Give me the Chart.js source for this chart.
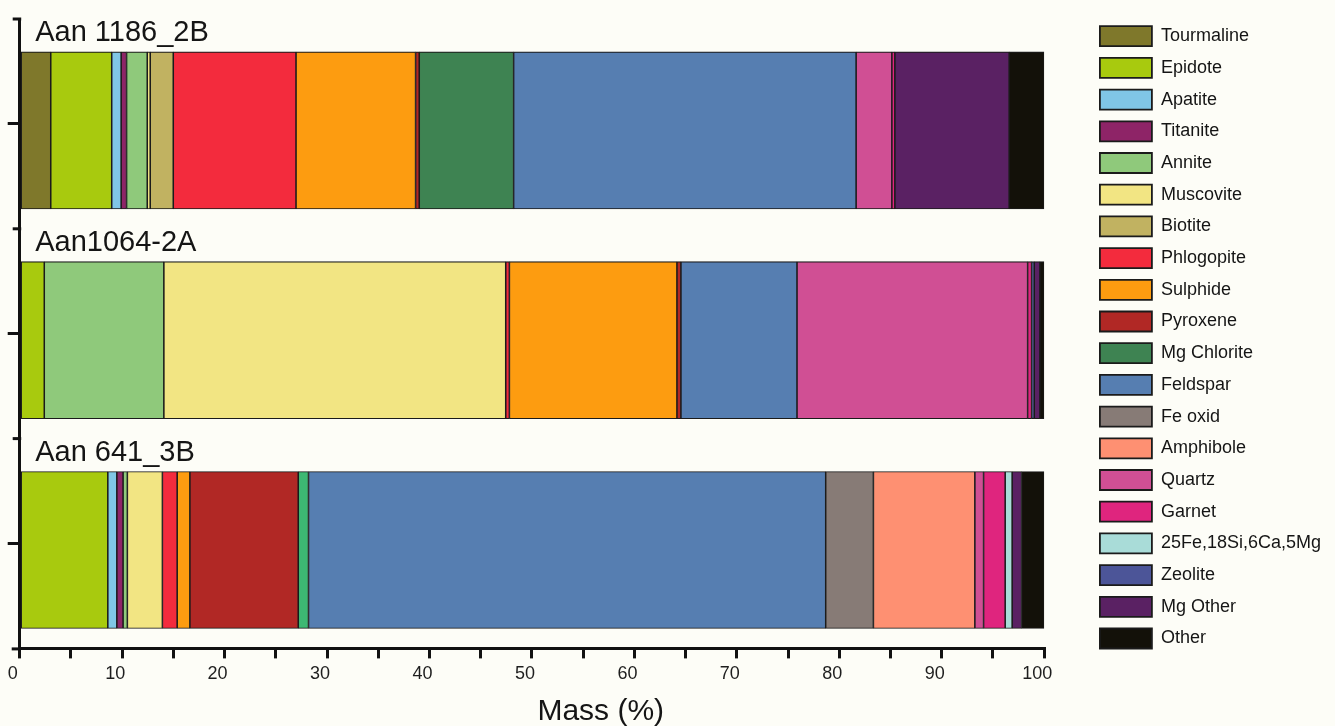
<!DOCTYPE html>
<html>
<head>
<meta charset="utf-8">
<title>Mass (%) per sample</title>
<script src="https://cdn.jsdelivr.net/npm/chart.js@4.4.1/dist/chart.umd.min.js"></script>
<style>
  html, body { margin: 0; padding: 0; background: #fdfdf7; }
  #wrap { width: 1335px; height: 726px; position: relative; }
</style>
</head>
<body>
<div id="wrap"><canvas id="massChart"></canvas></div>
<script>
// samples, top to bottom
const samples = ['Aan 1186_2B', 'Aan1064-2A', 'Aan 641_3B'];

// minerals in stack / legend order
const minerals = [
    'Tourmaline', 'Epidote', 'Apatite', 'Titanite', 'Annite', 'Muscovite', 'Biotite',
    'Phlogopite', 'Sulphide', 'Pyroxene', 'Mg Chlorite', 'Feldspar', 'Fe oxid',
    'Amphibole', 'Quartz', 'Garnet', '25Fe,18Si,6Ca,5Mg', 'Zeolite', 'Mg Other', 'Other'
];

const colours = [
    '#7f782b', '#a8ca0e', '#80c6e6', '#8e2467', '#8fc97b', '#f2e583', '#c1b261',
    '#f32b3d', '#fd9c10', '#b12825', '#3e8352', '#567eb1', '#877b76',
    '#fe9072', '#d04f94', '#df257e', '#a9dcd8', '#4c5598', '#5a2163', '#131109'
];

// mass % of each mineral, one value per sample
const tourmaline = [3.03, 0, 0];
const epidote    = [5.95, 2.40, 8.60];
const apatite    = [0.92, 0, 0.88];
const titanite   = [0.53, 0, 0.61];
const annite     = [2.02, 11.67, 0.42];
const muscovite  = [0.29, 33.37, 3.42];
const biotite    = [2.25, 0, 0];
const phlogopite = [11.98, 0.36, 1.44];
const sulphide   = [11.67, 16.35, 1.24];
const pyroxene   = [0.36, 0.39, 10.58];
const mgChlorite = [9.21, 0, 1.00];
const feldspar   = [33.43, 11.33, 50.48];
const feOxid     = [0, 0, 4.66];
const amphibole  = [0, 0, 9.90];
const quartz     = [3.49, 22.51, 0.85];
const garnet     = [0.29, 0.39, 2.11];
const fe25       = [0, 0, 0.68];
const zeolite    = [0, 0.26, 0];
const mgOther    = [11.16, 0.55, 0.92];
const other      = [3.42, 0.42, 2.21];

const massTicks = [0, 10, 20, 30, 40, 50, 60, 70, 80, 90, 100];

const seriesValues = [
    tourmaline, epidote, apatite, titanite, annite, muscovite, biotite,
    phlogopite, sulphide, pyroxene, mgChlorite, feldspar, feOxid,
    amphibole, quartz, garnet, fe25, zeolite, mgOther, other
];

// the chlorite in the last sample is printed in a lighter green
const chloriteLight = '#3db873';

const FONT = "'Liberation Sans', Arial, Helvetica, sans-serif";
const INK = '#151515';
const LEGEND_GAP = 48;     // room between plot and legend
const LEGEND_SHIFT = 44;
const LEGEND_RAISE = 4.5;
const BAR_DROP = 0.031;    // bars sit a little low inside each axis segment

Chart.defaults.font.family = FONT;
Chart.defaults.color = INK;

const datasets = minerals.map((name, i) => ({
    label: name,
    data: seriesValues[i],
    backgroundColor: name === 'Mg Chlorite'
        ? c => (c.type === 'data' && c.dataIndex === 2 ? chloriteLight : colours[i])
        : colours[i],
    borderColor: '#1b1b1b',
    borderWidth: 1.1,
    borderSkipped: false,
    barThickness: 157,
    yAxisID: 'yBars',
    xAxisID: 'x'
}));

// moves the legend right, leaving the gap on the plot side
const legendPlacement = {
    id: 'legendPlacement',
    afterInit(chart) {
        const legend = chart.legend;
        const fit = legend.fit;
        legend.fit = function () {
            fit.call(this);
            this.width += LEGEND_GAP;
        };
    },
    afterLayout(chart) {
        chart.legend.left += LEGEND_SHIFT;
        chart.legend.top -= LEGEND_RAISE;
    }
};

// sample names above bars, axis segment marks and x title
const decorations = {
    id: 'decorations',
    afterDraw(chart) {
        const ctx = chart.ctx;
        const area = chart.chartArea;
        const yScale = chart.scales.y;
        const meta = chart.getDatasetMeta(0);
        ctx.save();

        ctx.strokeStyle = '#111';
        ctx.lineWidth = 3;
        samples.forEach((s, i) => {
            const y = yScale.getPixelForValue(i - 0.5);
            ctx.beginPath();
            ctx.moveTo(area.left - 7, y);
            ctx.lineTo(area.left + 1.5, y);
            ctx.stroke();
        });
        // x axis line runs a little past the y axis
        ctx.beginPath();
        ctx.moveTo(area.left - 8, area.bottom + 0.5);
        ctx.lineTo(area.left, area.bottom + 0.5);
        ctx.stroke();

        ctx.fillStyle = INK;
        ctx.textAlign = 'left';
        ctx.textBaseline = 'alphabetic';
        ctx.font = '29px ' + FONT;
        samples.forEach((s, i) => {
            const bar = meta.data[i];
            const top = bar.y - bar.height / 2;
            ctx.fillText(s, area.left + 15.5, top - 11);
        });

        ctx.textAlign = 'center';
        ctx.font = '30px ' + FONT;
        ctx.fillText('Mass (%)', chart.width * 0.45, chart.height - 6);
        ctx.restore();
    }
};

new Chart(document.getElementById('massChart'), {
    type: 'bar',
    data: { labels: samples, datasets: datasets },
    options: {
        indexAxis: 'y',
        responsive: true,
        maintainAspectRatio: false,
        animation: false,
        devicePixelRatio: 1,
        layout: { padding: { top: 19, left: 7.7, right: 0, bottom: 36 } },
        scales: {
            x: {
                type: 'linear',
                stacked: true,
                min: 0,
                max: 100,
                position: 'bottom',
                ticks: {
                    stepSize: 5,
                    autoSkip: false,
                    maxRotation: 0,
                    labelOffset: -7,
                    padding: 5,
                    color: '#1e1e1e',
                    font: { size: 18 },
                    callback: v => (massTicks.includes(v) ? String(v) : '')
                },
                grid: { drawOnChartArea: false, tickLength: 10, lineWidth: 3, color: '#111' },
                border: { display: true, width: 3, color: '#111' }
            },
            y: {
                type: 'category',
                position: 'left',
                offset: true,
                ticks: { display: false },
                grid: { drawOnChartArea: false, offset: false, tickLength: 12, lineWidth: 3, color: '#111' },
                border: { display: true, width: 3, color: '#111' }
            },
            yBars: {
                type: 'category',
                display: false,
                stacked: true,
                offset: true,
                afterBuildTicks: s => { s._startValue -= BAR_DROP; }
            }
        },
        plugins: {
            tooltip: { enabled: false },
            legend: {
                position: 'right',
                align: 'start',
                labels: {
                    boxWidth: 52,
                    boxHeight: 20,
                    padding: 11.7,
                    color: INK,
                    font: { size: 18 },
                    generateLabels: chart => Chart.defaults.plugins.legend.labels
                        .generateLabels(chart)
                        .map(l => Object.assign(l, { lineWidth: 1.8, strokeStyle: '#1b1b1b' }))
                }
            }
        }
    },
    plugins: [legendPlacement, decorations]
});
</script>
</body>
</html>
